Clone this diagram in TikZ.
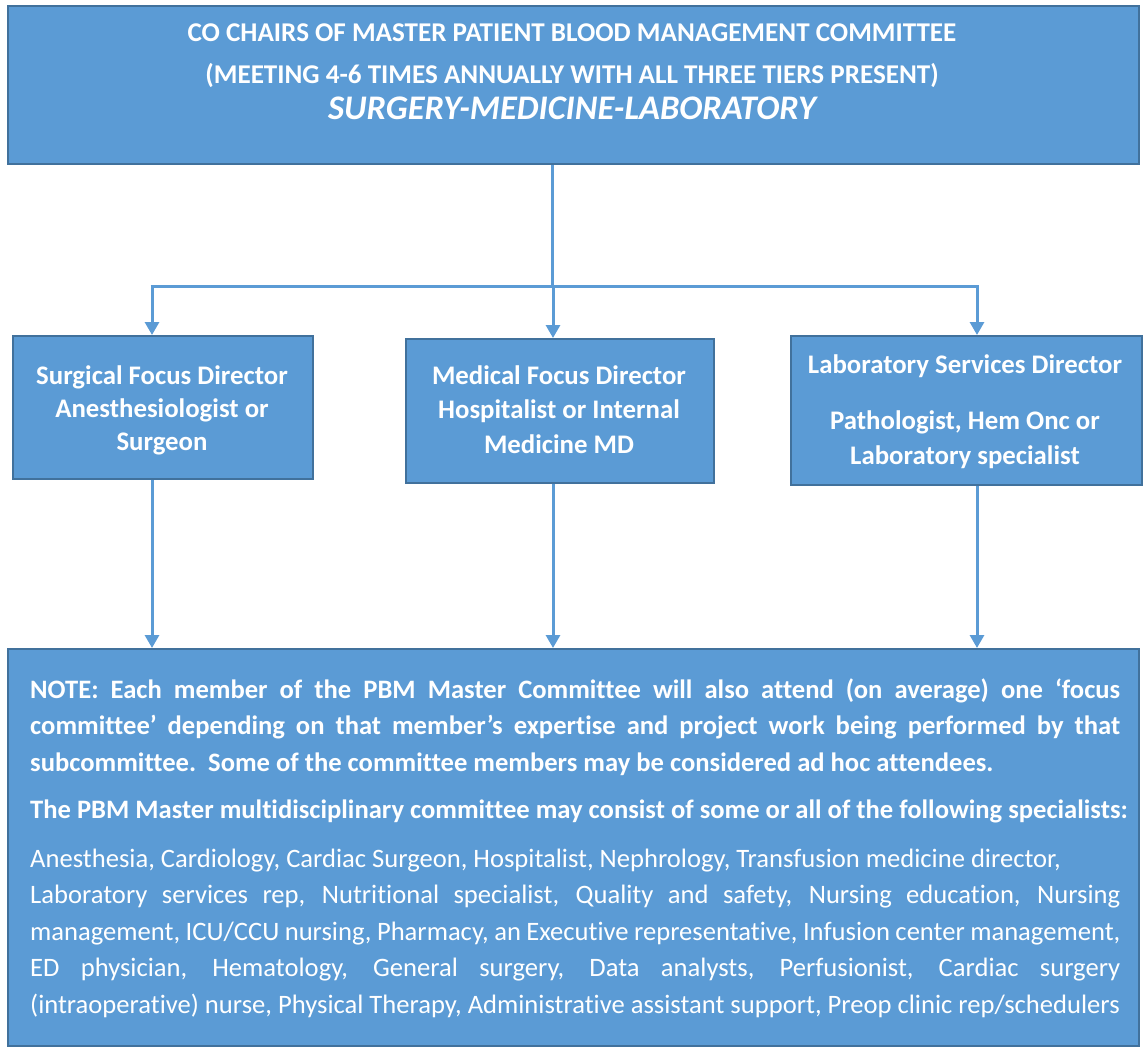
\documentclass[tikz,border=0pt]{standalone}
\usepackage{fontspec}
\setmainfont[Ligatures=NoCommon]{Carlito}
\usetikzlibrary{arrows.meta}
\definecolor{boxfill}{HTML}{5B9BD5}
\definecolor{boxline}{HTML}{41719C}
\definecolor{linkc}{HTML}{5B9BD5}
\newcommand{\jline}[1]{\makebox[1090pt][s]{#1}}
\begin{document}
\begin{tikzpicture}[x=1pt,y=-1pt,
  box/.style={draw=boxline, line width=2pt, fill=boxfill, inner sep=0, anchor=north west},
  lbl/.style={inner sep=0, text=white, anchor=base},
  conn/.style={draw=linkc, line width=3pt},
  arr/.style={conn, -{Triangle[width=14pt,length=13pt]}}]
\useasboundingbox (0,0) rectangle (1145,1047);
% boxes
\node[box, minimum width=1131pt, minimum height=158pt] (top) at (7,5) {};
\node[box, minimum width=300pt, minimum height=143pt] (left) at (12,335) {};
\node[box, minimum width=308pt, minimum height=144pt] (mid) at (405,338) {};
\node[box, minimum width=351pt, minimum height=149pt] (right) at (790,335) {};
\node[box, minimum width=1131pt, minimum height=397pt] (note) at (7,648) {};
% texts
\node[lbl] (topT) at (572,41) {\parbox[t]{1100pt}{\centering\fontsize{27.1}{42}\selectfont\bfseries
  CO CHAIRS OF MASTER PATIENT BLOOD MANAGEMENT COMMITTEE\\
  (MEETING 4-6 TIMES ANNUALLY WITH ALL THREE TIERS PRESENT)\\[-6pt]
  {\fontsize{34.5}{42}\selectfont\itshape SURGERY-MEDICINE-LABORATORY}}};
\node[lbl] (leftT) at (162,384) {\parbox[t]{290pt}{\centering\fontsize{26.8}{33}\selectfont\bfseries
  Surgical Focus Director\\ Anesthesiologist or\\ Surgeon}};
\node[lbl] (midT) at (559,384) {\parbox[t]{300pt}{\centering\fontsize{26.8}{34.5}\selectfont\bfseries
  Medical Focus Director\\ Hospitalist or Internal\\ Medicine MD}};
\node[lbl] (rightT) at (965,373) {\parbox[t]{340pt}{\centering\fontsize{26.8}{35}\selectfont\bfseries
  Laboratory Services Director\\[21pt] Pathologist, Hem Onc or\\ Laboratory specialist}};
\node[lbl, anchor=base west] (noteT) at (30,698) {\parbox[t]{1090pt}{\fontsize{26.6}{36.5}\selectfont\bfseries
  \jline{NOTE: Each member of the PBM Master Committee will also attend (on average) one ‘focus}\\
  \jline{committee’ depending on that member’s expertise and project work being performed by that}\\
  \mbox{subcommittee.\ \ Some of the committee members may be considered ad hoc attendees.}\\[11pt]
  \mbox{The PBM Master multidisciplinary committee may consist of some or all of the following specialists:}\\[12pt]
  \mdseries
  \mbox{Anesthesia, Cardiology, Cardiac Surgeon, Hospitalist, Nephrology, Transfusion medicine director,}\\
  \jline{Laboratory services rep, Nutritional specialist, Quality and safety, Nursing education, Nursing}\\
  \jline{management, ICU/CCU nursing, Pharmacy, an Executive representative, Infusion center management,}\\
  \jline{ED physician, Hematology, General surgery, Data analysts, Perfusionist, Cardiac surgery}\\
  \mbox{(intraoperative) nurse, Physical Therapy, Administrative assistant support, Preop clinic rep/schedulers}}};
% connectors
\coordinate (j) at (552,286);
\coordinate (jl) at (152,286);
\coordinate (jm) at (553,286);
\coordinate (jr) at (977,286);
\draw[conn] (top.south -| j) -- (j);
\draw[conn, line cap=butt] ([xshift=-1.5pt]jl) -- ([xshift=1.5pt]jr);
\draw[arr] (jl) -- (left.north -| jl);
\draw[arr] (jm) -- (mid.north -| jm);
\draw[arr] (jr) -- (right.north -| jr);
\draw[arr] (left.south -| jl) -- (note.north -| jl);
\draw[arr] (mid.south -| jm) -- (note.north -| jm);
\draw[arr] (right.south -| jr) -- (note.north -| jr);
\end{tikzpicture}
\end{document}
